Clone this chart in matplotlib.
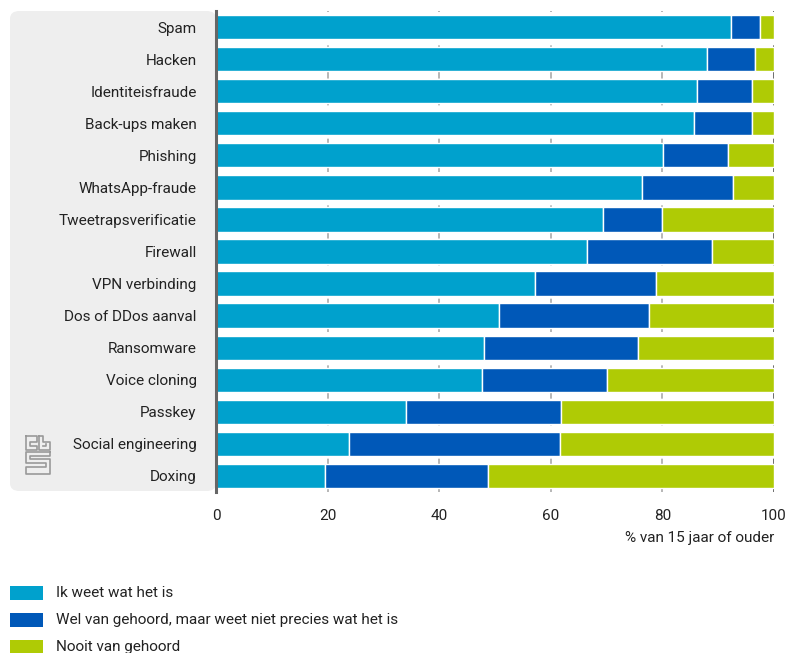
import numpy as np
import matplotlib.pyplot as plt
from matplotlib.patches import FancyBboxPatch

plt.rcParams['font.family'] = ['Roboto', 'DejaVu Sans']

categories = ['Spam', 'Hacken', 'Identiteisfraude', 'Back-ups maken', 'Phishing',
              'WhatsApp-fraude', 'Tweetrapsverificatie', 'Firewall', 'VPN verbinding',
              'Dos of DDos aanval', 'Ransomware', 'Voice cloning', 'Passkey',
              'Social engineering', 'Doxing']
weet = [92.3, 88.0, 86.2, 85.7, 80.1, 76.4, 69.3, 66.4, 57.2, 50.7, 48.0, 47.6, 34.1, 23.9, 19.5]
gehoord = [5.2, 8.6, 9.9, 10.4, 11.7, 16.3, 10.7, 22.5, 21.7, 26.9, 27.7, 22.4, 27.7, 37.7, 29.3]
nooit = [2.5, 3.4, 3.9, 3.9, 8.2, 7.3, 20.0, 11.1, 21.1, 22.4, 24.3, 30.0, 38.2, 38.4, 51.2]
series_labels = ['Ik weet wat het is', 'Wel van gehoord, maar weet niet precies wat het is',
                 'Nooit van gehoord']
colors = ['#00a1cd', '#0058b8', '#afcb05']
ticks = [0, 20, 40, 60, 80, 100]

W, H = 786, 653
fs = 11
fig = plt.figure(figsize=(W / 100, H / 100), dpi=100)

# grey panel behind the category labels
panel = FancyBboxPatch((10 / W, 1 - 491 / H), (216 - 10) / W, 480 / H,
                       boxstyle='round,pad=0,rounding_size=0.012',
                       transform=fig.transFigure, facecolor='#eeeeee',
                       edgecolor='none', zorder=-1)
fig.patches.append(panel)

ax = fig.add_axes([216 / W, 1 - 492 / H, 558 / W, 481 / H])
ax.set_facecolor('none')

y = np.arange(len(categories))
left = np.zeros(len(categories))
for vals, col, lab in zip([weet, gehoord, nooit], colors, series_labels):
    ax.barh(y, vals, left=left, height=0.76, color=col, edgecolor='white',
            linewidth=1, label=lab, zorder=2)
    left = left + np.array(vals)

for t in ticks[1:]:
    c = '#555555' if t == 100 else '#aaaaaa'
    ax.axvline(t, color=c, lw=1.2, ls=(0, (4, 4)), zorder=1)

ax.set_xlim(0, 100)
ax.set_ylim(len(categories) - 0.5, -0.5)
ax.set_yticks(y)
ax.set_yticklabels(categories, fontsize=fs, color='#222222')
ax.set_xticks(ticks)
ax.set_xticklabels([str(t) for t in ticks], fontsize=fs, color='#222222')
ax.tick_params(axis='y', length=0, pad=14)
ax.tick_params(axis='x', length=0, pad=12)
for s in ['top', 'right', 'bottom']:
    ax.spines[s].set_visible(False)
ax.spines['left'].set_color('#666666')
ax.spines['left'].set_linewidth(2.2)
ax.spines['left'].set_zorder(3)

fig.text(774 / W, 1 - 538 / H, '% van 15 jaar of ouder', ha='right', va='center',
         fontsize=fs, color='#222222')

# legend
for i, (col, lab) in enumerate(zip(colors, series_labels)):
    yc = 593 + i * 27
    fig.patches.append(plt.Rectangle((10 / W, 1 - (yc + 7) / H), 33 / W, 14 / H,
                                     transform=fig.transFigure, facecolor=col,
                                     edgecolor='none'))
    fig.text(56 / W, 1 - yc / H, lab, ha='left', va='center', fontsize=fs,
             color='#222222')

# rough cbs logo
lg = fig.add_axes([25 / W, 1 - 475 / H, 26 / W, 40 / H])
lg.set_xlim(0, 10)
lg.set_ylim(0, 15)
lg.axis('off')
lc = '#999999'
for path in [
    [(0.5, 14.5), (4.5, 14.5), (4.5, 12.5), (2, 12.5), (2, 11), (4.5, 11), (4.5, 9.5), (0.5, 9.5), (0.5, 14.5)],
    [(5.5, 14.5), (5.5, 9.5), (9.5, 9.5), (9.5, 12.5), (7, 12.5), (7, 14.5), (5.5, 14.5)],
    [(7, 11), (8, 11), (8, 11.5)],
    [(9.5, 8.5), (0.5, 8.5), (0.5, 4.5), (8, 4.5), (8, 3), (0.5, 3), (0.5, 0.5), (9.5, 0.5), (9.5, 6), (2, 6), (2, 7), (9.5, 7), (9.5, 8.5)],
]:
    xs, ys = zip(*path)
    lg.plot(xs, ys, color=lc, lw=1.2)

fig.savefig('out.png', dpi=100)
